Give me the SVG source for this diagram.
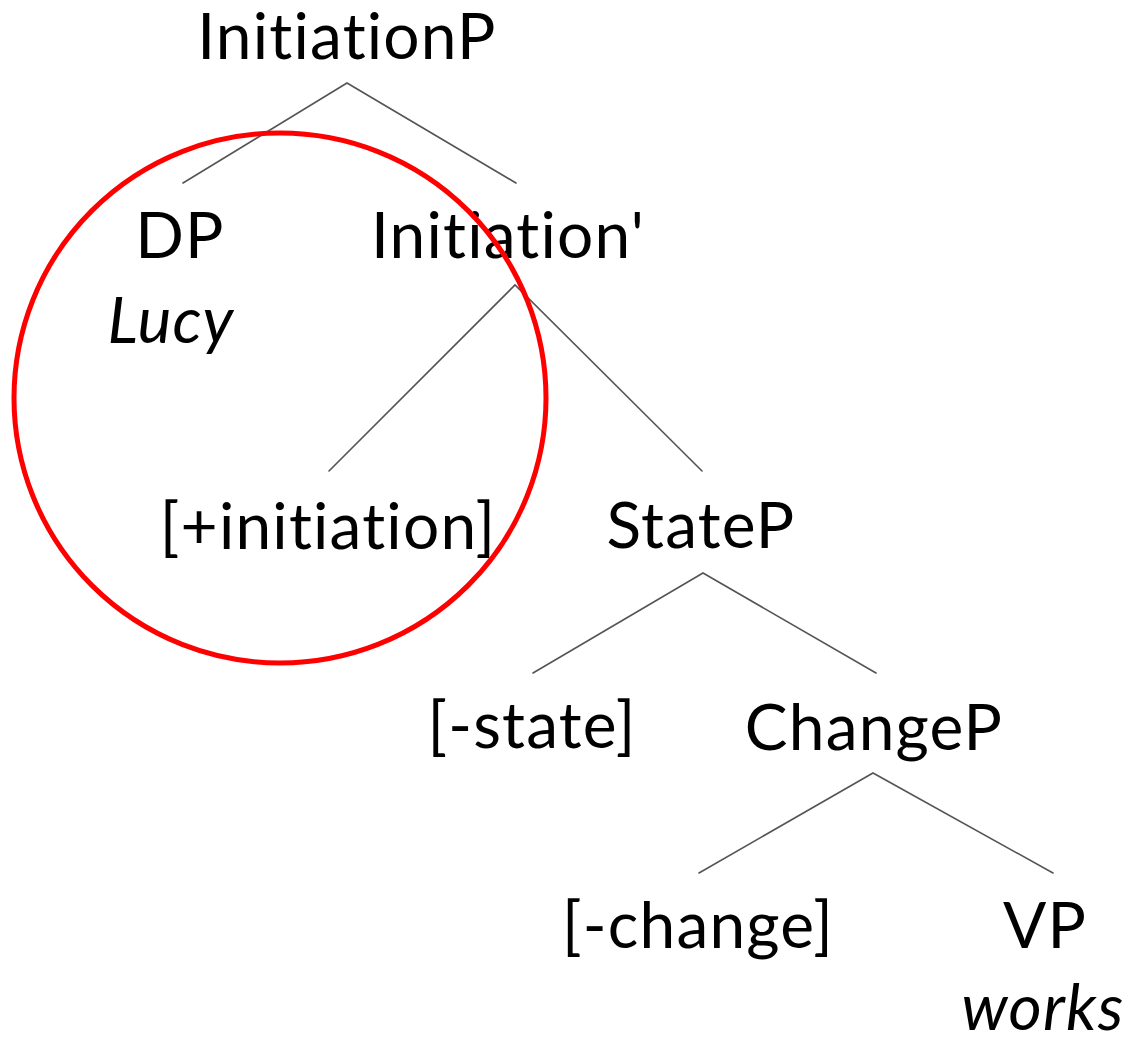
<svg xmlns="http://www.w3.org/2000/svg" width="1138" height="1042" viewBox="0 0 1138 1042">
  <style>
    .lbl { font-family: Lato, "Open Sans", "Liberation Sans", sans-serif; font-size: 64px; letter-spacing: 1.2px; fill: #000; text-anchor: middle; font-variant-ligatures: none; font-feature-settings: "liga" 0, "clig" 0; }
    .it { font-style: italic; }
    .edge { stroke: #555; stroke-width: 1.6; fill: none; stroke-linecap: round; }
    .mark { stroke: #ff0000; stroke-width: 5; fill: none; }
  </style>
  <rect width="1138" height="1042" fill="#fff"/>

  <!-- tree branches -->
  <g id="edges">
    <polyline class="edge" points="183,183 347,83 516,183"/>
    <polyline class="edge" points="329,471 515,285 702,471"/>
    <polyline class="edge" points="533,673 703,573 876,673"/>
    <polyline class="edge" points="699,873 873,773 1053,873"/>
  </g>

  <g id="initiationP"><text class="lbl" x="347" y="59">InitiationP</text></g>
  <g id="dp">
    <text class="lbl" x="180" y="258">DP</text>
    <text class="lbl it" x="171" y="343">Lucy</text>
  </g>
  <g id="initiationBar"><text class="lbl" x="508" y="258">Initiation'</text></g>
  <g id="initiationHead"><text class="lbl" x="328" y="549">[+initiation]</text></g>
  <g id="stateP"><text class="lbl" x="701" y="548">StateP</text></g>
  <g id="stateHead"><text class="lbl" x="532" y="748">[-state]</text></g>
  <g id="changeP"><text class="lbl" x="874" y="750">ChangeP</text></g>
  <g id="changeHead"><text class="lbl" x="698" y="948">[-change]</text></g>
  <g id="vp">
    <text class="lbl" x="1045" y="948">VP</text>
    <text class="lbl it" x="1043" y="1030">works</text>
  </g>

  <!-- highlight ring around the initiation subtree -->
  <g id="highlight"><ellipse class="mark" cx="280" cy="398" rx="266" ry="265"/></g>
</svg>
